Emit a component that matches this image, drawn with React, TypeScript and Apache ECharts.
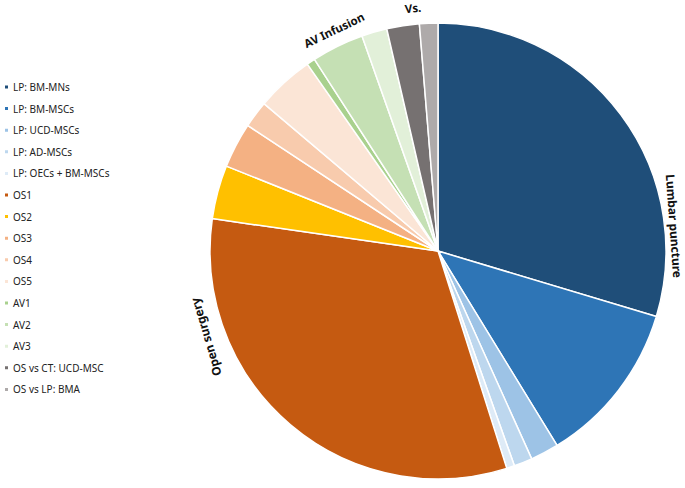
import React, { useEffect, useRef } from "react";
import * as echarts from "echarts";

const categories = [
  "LP: BM-MNs",
  "LP: BM-MSCs",
  "LP: UCD-MSCs",
  "LP: AD-MSCs",
  "LP: OECs + BM-MSCs",
  "OS1",
  "OS2",
  "OS3",
  "OS4",
  "OS5",
  "AV1",
  "AV2",
  "AV3",
  "OS vs CT: UCD-MSC",
  "OS vs LP: BMA",
];

const values = [29.6, 11.6, 2.0, 1.3, 0.56, 32.1, 3.8, 3.2, 1.9, 4.1, 0.6, 3.7, 1.8, 2.3, 1.3];

const colors = [
  "#1f4e79",
  "#2e75b6",
  "#9dc3e6",
  "#bdd7ee",
  "#deebf7",
  "#c55a11",
  "#ffc000",
  "#f4b183",
  "#f8cbad",
  "#fbe5d6",
  "#a9d18e",
  "#c5e0b4",
  "#e2f0d9",
  "#767171",
  "#aeaaaa",
];

const groupLabels = ["Lumbar puncture", "Open surgery", "AV Infusion", "Vs."];

export default function App() {
  const ref = useRef<HTMLDivElement>(null);

  useEffect(() => {
    if (!ref.current) return;
    const chart = echarts.init(ref.current, undefined, { renderer: "svg" });
    const font = "'Noto Sans', 'Open Sans', sans-serif";
    const labelStyle = (text: string, size: number) => ({
      text,
      fill: "#111",
      font: `bold ${size}px ${font}`,
      align: "center",
      verticalAlign: "middle",
    });
    chart.setOption({
      animation: false,
      backgroundColor: "#ffffff",
      color: colors,
      legend: {
        orient: "vertical",
        left: 3,
        top: 81,
        padding: 0,
        itemWidth: 5,
        itemHeight: 5,
        itemGap: 9.6,
        icon: "rect",
        selectedMode: false,
        data: categories,
        textStyle: {
          fontFamily: font,
          fontSize: 10,
          lineHeight: 12,
          color: "#222",
          padding: [0, 0, 0, -1],
        },
      },
      series: [
        {
          type: "pie",
          center: [438, 251],
          radius: 228,
          startAngle: 90,
          clockwise: true,
          silent: true,
          label: { show: false },
          labelLine: { show: false },
          itemStyle: { borderColor: "#ffffff", borderWidth: 1.5 },
          data: categories.map((name, i) => ({ name, value: values[i] })),
        },
      ],
      graphic: [
        {
          type: "text",
          x: 674,
          y: 226,
          rotation: -1.5,
          style: labelStyle(groupLabels[0], 12),
        },
        {
          type: "text",
          x: 206,
          y: 337,
          rotation: 1.86,
          style: labelStyle(groupLabels[1], 12),
        },
        {
          type: "text",
          x: 334,
          y: 30,
          rotation: 0.45,
          style: labelStyle(groupLabels[2], 11.5),
        },
        {
          type: "text",
          x: 413,
          y: 8,
          rotation: 0.1,
          style: labelStyle(groupLabels[3], 11.5),
        },
      ],
    });
    return () => chart.dispose();
  }, []);

  return (
    <div
      ref={ref}
      style={{ position: "fixed", left: 0, top: 0, width: 685, height: 488 }}
    />
  );
}
